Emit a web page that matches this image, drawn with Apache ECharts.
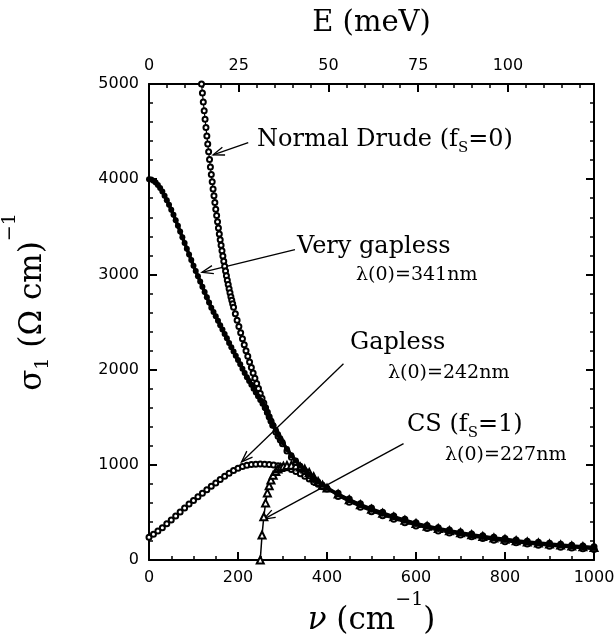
<!DOCTYPE html>
<html>
<head>
<meta charset="utf-8">
<script src="https://cdn.jsdelivr.net/npm/echarts@6/dist/echarts.min.js"></script>
<style>
  html, body { margin: 0; padding: 0; background: #fff; }
  #main { width: 615px; height: 642px; }
</style>
</head>
<body>
<div id="main"></div>
<script>
// values: nu in cm^-1, sigma1 in (Ohm cm)^-1

// Normal Drude (fS=0), open circles
var drudeNu = [118, 120, 122, 124, 126, 128, 130, 132, 134, 136, 138, 140,
  142, 144, 146, 148, 150, 152, 154, 156, 158, 160, 162, 164, 166, 168, 170, 172, 174, 176, 178, 180, 182, 184, 186, 188, 190,
  194, 198, 202, 206, 210, 214, 218, 222, 226, 230, 234, 238, 242, 246, 250, 254, 258, 262, 266, 270, 274, 278,
  285, 290, 295, 300, 310, 320, 330, 340, 350, 360, 370, 380, 390, 400,
  425, 450, 475, 500, 525, 550, 575, 600, 625, 650, 675, 700, 725, 750, 775, 800, 825, 850, 875, 900, 925, 950, 975, 1000];
var drudeSigma = [5000, 4905, 4811, 4720, 4630, 4542, 4455, 4371, 4288, 4206, 4127, 4049,
  3972, 3898, 3825, 3754, 3685, 3618, 3552, 3488, 3425, 3364, 3305, 3248, 3192, 3138, 3086, 3035, 2986, 2939, 2893, 2849, 2807, 2766, 2728, 2691, 2655,
  2586, 2519, 2453, 2388, 2324, 2261, 2199, 2139, 2080, 2022, 1965, 1909, 1854, 1801, 1749, 1698, 1648, 1599, 1552, 1505, 1460, 1415,
  1345, 1300, 1260, 1220, 1145, 1080, 1025, 975, 930, 885, 845, 810, 775, 745,
  668, 607, 555, 508, 465, 428, 392, 358, 330, 305, 283, 263, 243, 225, 208, 193, 180, 167, 155, 145, 135, 126, 118, 110];

// Very gapless, filled dots
var veryNu = [0, 5, 10, 15, 20, 25, 30, 35, 40, 45, 50, 55, 60, 65, 70, 75, 80, 85, 90, 95,
  100, 105, 110, 115, 120, 125, 130, 135, 140, 145, 150, 155, 160, 165, 170, 175, 180, 185, 190, 195,
  200, 205, 210, 215, 220, 225, 230, 235, 240, 245, 250, 255, 260, 265, 270, 275, 280, 285, 290, 295, 300,
  310, 320, 330, 340, 350, 360, 370, 380, 390, 400,
  425, 450, 475, 500, 525, 550, 575, 600, 625, 650, 675, 700, 725, 750, 775, 800, 825, 850, 875, 900, 925, 950, 975, 1000];
var verySigma = [4000, 3996, 3985, 3965, 3940, 3908, 3870, 3827, 3780, 3731, 3680, 3626, 3570, 3511, 3450, 3390, 3330, 3270, 3210, 3150,
  3090, 3035, 2980, 2925, 2870, 2815, 2760, 2705, 2650, 2605, 2560, 2512, 2465, 2420, 2375, 2328, 2280, 2235, 2190, 2145,
  2100, 2055, 2010, 1965, 1920, 1880, 1840, 1800, 1760, 1720, 1680, 1640, 1600, 1550, 1500, 1455, 1410, 1365, 1320, 1280, 1240,
  1165, 1100, 1045, 990, 945, 900, 860, 825, 790, 760,
  688, 627, 575, 528, 485, 448, 412, 378, 350, 325, 303, 280, 260, 242, 226, 211, 197, 185, 173, 162, 152, 143, 134, 126];

// Gapless, small open markers
var gaplessNu = [0, 10, 20, 30, 40, 50, 60, 70, 80, 90, 100, 110, 120, 130, 140, 150, 160, 170, 180, 190,
  200, 210, 220, 230, 240, 250, 260, 270, 280, 290, 300, 310, 320, 330, 340, 350, 360, 370, 380, 390, 400,
  425, 450, 475, 500, 525, 550, 575, 600, 625, 650, 675, 700, 725, 750, 775, 800, 825, 850, 875, 900, 925, 950, 975, 1000];
var gaplessSigma = [240, 270, 305, 340, 380, 420, 462, 505, 545, 588, 625, 665, 700, 738, 775, 810, 845, 880, 912, 940,
  963, 982, 995, 1003, 1007, 1008, 1007, 1004, 998, 990, 980, 968, 950, 930, 905, 880, 850, 820, 795, 770, 750,
  700, 642, 590, 545, 502, 463, 427, 392, 363, 338, 316, 294, 274, 256, 240, 225, 211, 198, 186, 175, 165, 155, 146, 138];

// CS (fS=1), open triangles
var csNu = [250, 254, 258, 262, 266, 270, 274, 279, 285, 290, 296, 302, 310, 320, 330, 340, 350, 360, 370, 380, 390, 400,
  425, 450, 475, 500, 525, 550, 575, 600, 625, 650, 675, 700, 725, 750, 775, 800, 825, 850, 875, 900, 925, 950, 975, 1000];
var csSigma = [0, 262, 454, 600, 705, 780, 840, 890, 930, 955, 972, 985, 992, 995, 990, 978, 955, 920, 875, 825, 785, 755,
  692, 632, 580, 533, 490, 453, 417, 384, 355, 330, 308, 286, 266, 248, 232, 217, 203, 190, 178, 167, 157, 148, 139, 131];

// axis ticks
var nuTicks = [0, 200, 400, 600, 800, 1000];
var sigmaTicks = [0, 1000, 2000, 3000, 4000, 5000];
var meVTicks = [0, 25, 50, 75, 100];
var cmPerMeV = 8.0655;

// annotation arrows, [tail, tip] in data units
var arrows = [
  [[223, 4385], [144, 4256]],
  [[328, 3260], [119, 3022]],
  [[437, 2062], [208, 1030]],
  [[572, 1223], [258, 430]]
];

function zip(a, b) {
  return a.map(function (v, i) { return [v, b[i]]; });
}

var serif = 'DejaVu Serif';
var sans = 'DejaVu Sans';
var tickLabel = {
  color: '#000', fontFamily: sans, fontSize: 16,
  formatter: function (v) { return String(v); }
};

var chart = echarts.init(document.getElementById('main'));

var option = {
  animation: false,
  backgroundColor: '#fff',
  grid: { left: 149, right: 21, top: 84, bottom: 82, outerBoundsMode: 'none', containLabel: false },
  xAxis: [{
    type: 'value',
    position: 'bottom',
    min: nuTicks[0],
    max: nuTicks[nuTicks.length - 1],
    interval: nuTicks[1] - nuTicks[0],
    axisLine: { onZero: false, lineStyle: { color: '#000', width: 2 } },
    axisTick: { inside: true, length: 8, lineStyle: { color: '#000', width: 2 } },
    minorTick: { show: true, splitNumber: 4, length: 4, lineStyle: { color: '#000', width: 1.5 } },
    splitLine: { show: false },
    axisLabel: Object.assign({ margin: 10 }, tickLabel),
    name: '{nu|ν}{t| (cm}{sup|−1}{t|)}',
    nameLocation: 'middle',
    nameGap: 30,
    nameTextStyle: {
      rich: {
        nu: { fontFamily: serif, fontStyle: 'italic', fontSize: 31, lineHeight: 60, color: '#000' },
        t: { fontFamily: serif, fontSize: 31, lineHeight: 60, color: '#000' },
        sup: { fontFamily: serif, fontSize: 19, lineHeight: 14, verticalAlign: 'top', color: '#000' }
      }
    }
  }, {
    type: 'value',
    position: 'top',
    min: 0,
    max: nuTicks[nuTicks.length - 1] / cmPerMeV,
    interval: meVTicks[1] - meVTicks[0],
    axisLine: { onZero: false, lineStyle: { color: '#000', width: 2 } },
    axisTick: { inside: true, length: 8, lineStyle: { color: '#000', width: 2 } },
    minorTick: { show: true, splitNumber: 5, length: 4, lineStyle: { color: '#000', width: 1.5 } },
    splitLine: { show: false },
    axisLabel: Object.assign({}, tickLabel, {
      margin: 10,
      formatter: function (v) { return meVTicks.indexOf(Math.round(v * 1000) / 1000) >= 0 ? String(v) : ''; }
    }),
    name: 'E (meV)',
    nameLocation: 'middle',
    nameGap: 46,
    nameTextStyle: { fontFamily: serif, fontSize: 29, lineHeight: 30, color: '#000' }
  }],
  yAxis: [{
    type: 'value',
    position: 'left',
    min: sigmaTicks[0],
    max: sigmaTicks[sigmaTicks.length - 1],
    interval: sigmaTicks[1] - sigmaTicks[0],
    axisLine: { show: true, onZero: false, lineStyle: { color: '#000', width: 2 } },
    axisTick: { show: true, inside: true, length: 8, lineStyle: { color: '#000', width: 2 } },
    minorTick: { show: true, splitNumber: 5, length: 4, lineStyle: { color: '#000', width: 1.5 } },
    splitLine: { show: false },
    axisLabel: Object.assign({ margin: 10 }, tickLabel),
    name: '{t|σ}{sub|1}{t| (Ω cm)}{sup|−1}',
    nameLocation: 'middle',
    nameGap: 84,
    nameTextStyle: {
      padding: [0, 0, 0, 40],
      rich: {
        t: { fontFamily: serif, fontSize: 31, lineHeight: 64, color: '#000' },
        sub: { fontFamily: serif, fontSize: 19, verticalAlign: 'bottom', padding: [0, 0, 12, 0], color: '#000' },
        sup: { fontFamily: serif, fontSize: 19, verticalAlign: 'top', color: '#000' }
      }
    }
  }, {
    type: 'value',
    position: 'right',
    min: sigmaTicks[0],
    max: sigmaTicks[sigmaTicks.length - 1],
    interval: sigmaTicks[1] - sigmaTicks[0],
    axisLine: { show: true, onZero: false, lineStyle: { color: '#000', width: 2 } },
    axisTick: { show: true, inside: true, length: 8, lineStyle: { color: '#000', width: 2 } },
    minorTick: { show: true, splitNumber: 5, length: 4, lineStyle: { color: '#000', width: 1.5 } },
    splitLine: { show: false },
    axisLabel: { show: false }
  }],
  series: [{
    name: 'Gapless',
    type: 'line',
    z: 2,
    data: zip(gaplessNu, gaplessSigma),
    symbol: 'emptyCircle',
    symbolSize: 5,
    lineStyle: { color: '#000', width: 2 },
    itemStyle: { color: '#000', borderWidth: 1 }
  }, {
    name: 'CS',
    type: 'line',
    z: 2,
    data: zip(csNu, csSigma),
    symbol: 'emptyTriangle',
    symbolSize: 7,
    lineStyle: { color: '#000', width: 1.5 },
    itemStyle: { color: '#000', borderWidth: 1 }
  }, {
    name: 'Normal Drude',
    type: 'line',
    z: 2,
    data: zip(drudeNu, drudeSigma),
    symbol: 'emptyCircle',
    symbolSize: 5,
    lineStyle: { color: '#000', width: 1.2 },
    itemStyle: { color: '#000', borderWidth: 1 }
  }, {
    name: 'Very gapless',
    type: 'line',
    z: 3,
    data: zip(veryNu, verySigma),
    symbol: 'circle',
    symbolSize: 6,
    lineStyle: { color: '#000', width: 3.5 },
    itemStyle: { color: '#000' }
  }]
};
chart.setOption(option);

// labels and arrows
var richSub = {
  t: { fontFamily: serif, fontSize: 24, lineHeight: 40, fill: '#000', color: '#000' },
  s: { fontFamily: serif, fontSize: 15, verticalAlign: 'bottom', padding: [0, 0, 4, 0], fill: '#000', color: '#000' }
};
function label(x, y, text, size, rich) {
  return {
    type: 'text',
    x: x, y: y,
    style: {
      text: text,
      fontFamily: serif,
      fontSize: size,
      fill: '#000',
      align: 'left',
      verticalAlign: 'middle',
      rich: rich
    }
  };
}
var graphics = [
  label(257, 140, '{t|Normal Drude (f}{s|S}{t|=0)}', 24, richSub),
  label(297, 247, 'Very gapless', 24),
  label(356, 275, 'λ(0)=341nm', 19),
  label(350, 343, 'Gapless', 24),
  label(388, 373, 'λ(0)=242nm', 19),
  label(407, 425, '{t|CS (f}{s|S}{t|=1)}', 24, richSub),
  label(445, 455, 'λ(0)=227nm', 19)
];
arrows.forEach(function (a) {
  var p0 = chart.convertToPixel({ xAxisIndex: 0, yAxisIndex: 0 }, a[0]);
  var p1 = chart.convertToPixel({ xAxisIndex: 0, yAxisIndex: 0 }, a[1]);
  var ang = Math.atan2(p0[1] - p1[1], p0[0] - p1[0]);
  var len = 12, spread = 0.35;
  var h1 = [p1[0] + len * Math.cos(ang + spread), p1[1] + len * Math.sin(ang + spread)];
  var h2 = [p1[0] + len * Math.cos(ang - spread), p1[1] + len * Math.sin(ang - spread)];
  graphics.push({
    type: 'polyline',
    shape: { points: [p0, p1] },
    style: { stroke: '#000', lineWidth: 1.3, fill: null }
  });
  graphics.push({
    type: 'polyline',
    shape: { points: [h1, p1, h2] },
    style: { stroke: '#000', lineWidth: 1.3, fill: null }
  });
});
chart.setOption({ graphic: graphics });
</script>
</body>
</html>
